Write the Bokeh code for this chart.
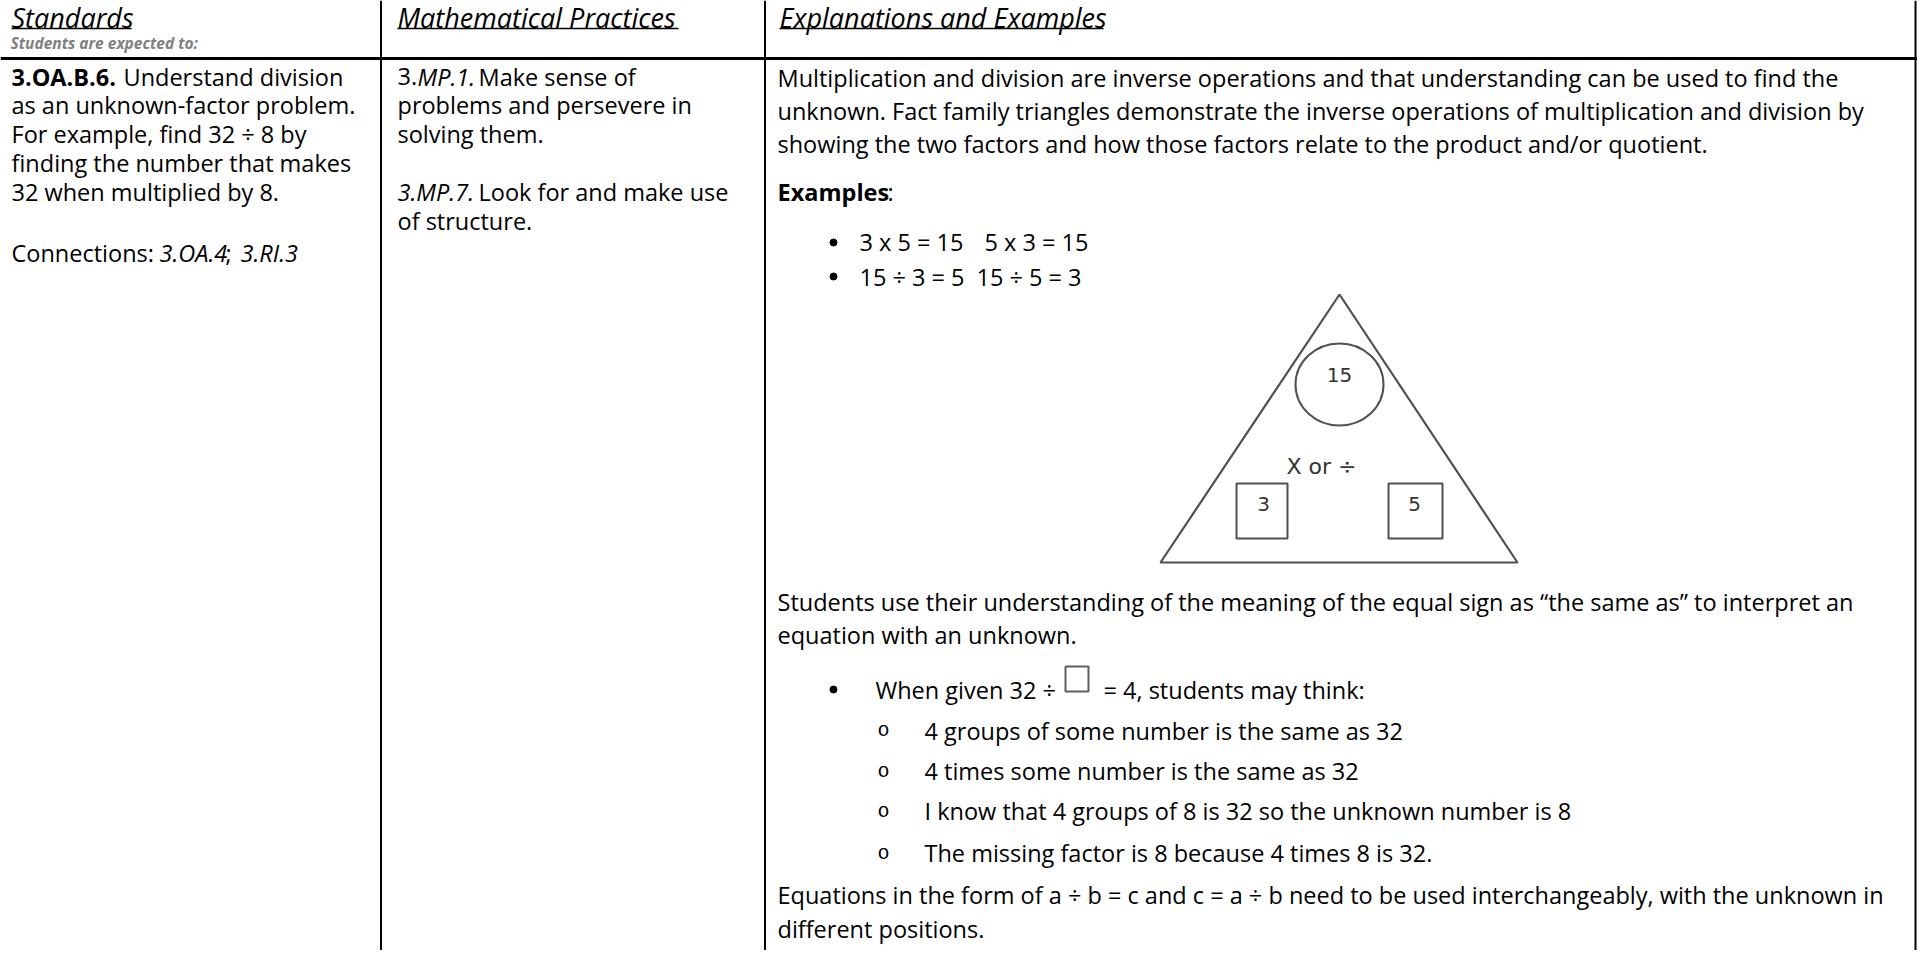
from bokeh.plotting import figure
from bokeh.models import Range1d, ColumnDataSource
from bokeh.core.properties import value
from bokeh.embed import file_html
from bokeh.resources import INLINE

# ---------------- content ----------------
headers = ["Standards", "Mathematical Practices", "Explanations and Examples"]
subheader = "Students are expected to:"

col1_head_bold = "3.OA.B.6."
col1_head_rest = "Understand division"
col1_lines = ["as an unknown-factor problem.",
              "For example, find 32 ÷ 8 by",
              "finding the number that makes",
              "32 when multiplied by 8."]
conn_runs = ["Connections:", "3.OA.4", ";", "3.RI.3"]
conn_styles = ["normal", "italic", "normal", "italic"]

mp1_runs = ["3.", "MP.1.", "Make sense of"]
mp1_styles = ["normal", "italic", "normal"]
mp1_lines = ["problems and persevere in", "solving them."]
mp7_runs = ["3.MP.7.", "Look for and make use"]
mp7_styles = ["italic", "normal"]
mp7_lines = ["of structure."]

expl_par1 = ["Multiplication and division are inverse operations and that understanding can be used to find the",
             "unknown. Fact family triangles demonstrate the inverse operations of multiplication and division by",
             "showing the two factors and how those factors relate to the product and/or quotient."]
examples_runs = ["Examples", ":"]
example_left = ["3 x 5 = 15", "15 ÷ 3 = 5"]
example_right = ["5 x 3 = 15", "15 ÷ 5 = 3"]

tri_product = "15"
tri_ops = "X or ÷"
tri_factors = ["3", "5"]

expl_par2 = ["Students use their understanding of the meaning of the equal sign as \u201cthe same as\u201d to interpret an",
             "equation with an unknown."]
given_runs = ["When given 32 ÷", "= 4, students may think:"]
sub_bullets = ["4 groups of some number is the same as 32",
               "4 times some number is the same as 32",
               "I know that 4 groups of 8 is 32 so the unknown number is 8",
               "The missing factor is 8 because 4 times 8 is 32."]
expl_par3 = ["Equations in the form of a ÷ b = c and c = a ÷ b need to be used interchangeably, with the unknown in",
             "different positions."]

# ---------------- layout (page pixel coordinates) ----------------
W, H = 1917, 950
FONT = "Open Sans"
FS = "23.5px"
INK = "#000000"

p = figure(width=W, height=H, output_backend="svg", toolbar_location=None,
           x_range=Range1d(0, W), y_range=Range1d(H, 0),
           min_border=0, background_fill_color="white", border_fill_color="white")
p.axis.visible = False
p.grid.visible = False
p.outline_line_color = None


def txt(xs, ys, texts, style="normal", size=FS, color=INK, font=FONT, align="left", baseline="alphabetic"):
    src = ColumnDataSource(dict(x=list(xs), y=list(ys), t=list(texts)))
    p.text(x="x", y="y", text="t", source=src, text_font=value(font), text_font_size=size,
           text_font_style=style, text_color=color, text_align=align, text_baseline=baseline)


# table rules
col_x = [380.5, 764.5, 1915]
p.segment(x0=col_x, y0=[0] * 3, x1=col_x, y1=[H] * 3, line_color="black", line_width=2)
p.segment(x0=[0], y0=[58], x1=[W], y1=[58], line_color="black", line_width=3)

# headers
hx = [11, 397, 779]
hend = [131, 678, 1103]
txt(hx, [17] * 3, headers, style="italic", size="27px")
p.segment(x0=hx, y0=[28] * 3, x1=hend, y1=[28] * 3, line_color=INK, line_width=1.5)
txt([10], [42], [subheader], style="bold italic", size="15.5px", color="#808080")

# column 1
c1 = 11
L1 = 28.8
b0 = 76
txt([c1], [b0], [col1_head_bold], style="bold")
txt([123], [b0], [col1_head_rest])
txt([c1] * len(col1_lines), [b0 + L1 * (i + 1) for i in range(len(col1_lines))], col1_lines)
conn_x = [c1, 159, 225, 240]
for xx, t, s in zip(conn_x, conn_runs, conn_styles):
    txt([xx], [252], [t], style=s)

# column 2
c2 = 397
mp1_x = [c2, 417, 478]
for xx, t, s in zip(mp1_x, mp1_runs, mp1_styles):
    txt([xx], [b0], [t], style=s)
txt([c2] * 2, [b0 + L1, b0 + 2 * L1], mp1_lines)
mp7_x = [c2, 478]
for xx, t, s in zip(mp7_x, mp7_runs, mp7_styles):
    txt([xx], [191.5], [t], style=s)
txt([c2], [220.5], mp7_lines)

# column 3
c3 = 777
L3 = 33
txt([c3] * 3, [77 + L3 * i for i in range(3)], expl_par1)
txt([c3], [191.5], [examples_runs[0]], style="bold")
txt([887], [191.5], [examples_runs[1]])
bul_y = [241.5, 276]
p.scatter(x=[833, 833, 833], y=[242, 276, 689], size=7, color=INK)
txt([859] * 2, bul_y, example_left)
txt([984, 976], bul_y, example_right)

# fact family triangle
TRI = "#505050"
TXT2 = "#333333"
p.patch(x=[1339, 1160, 1517], y=[294, 562, 562], fill_color=None, line_color=TRI, line_width=2.2)
p.ellipse(x=[1339], y=[384], width=[88], height=[82], fill_color=None, line_color=TRI, line_width=2)
p.quad(left=[1236, 1388], right=[1287, 1442], top=[483, 483], bottom=[538, 538],
       fill_color=None, line_color=TRI, line_width=2)
txt([1339], [374], [tri_product], font="DejaVu Sans", size="20px", color=TXT2, align="center")
txt([1321], [466], [tri_ops], font="DejaVu Sans", size="22px", color=TXT2, align="center")
txt([1263, 1414], [503, 503], tri_factors, font="DejaVu Sans", size="20px", color=TXT2, align="center")

# paragraph 2
txt([c3] * 2, [601.5, 634.5], expl_par2)
txt([875], [689], [given_runs[0]])
p.quad(left=[1065], right=[1088], top=[666], bottom=[691], fill_color=None, line_color="#606060", line_width=2)
txt([1103], [689], [given_runs[1]])
sub_y = [730, 770.5, 810.5, 852.5]
txt([883] * 4, sub_y, ["o"] * 4, font="Liberation Mono", size="20px", align="center")
txt([924] * 4, sub_y, sub_bullets)

# paragraph 3
txt([c3] * 2, [894.5, 928.5], expl_par3)

open("out.html", "w").write(file_html(p, INLINE))
